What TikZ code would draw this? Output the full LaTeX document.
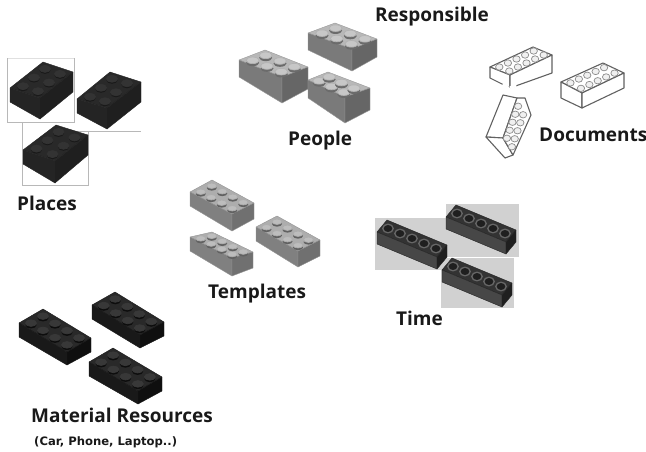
\documentclass[tikz,border=0pt]{standalone}
\usepackage{fontspec}
\setmainfont{Open Sans}
\newfontfamily\smallbold{DejaVu Sans}
\newcommand\brickset[9]{%
  \colorlet{ctop}{#1}\colorlet{cleft}{#2}\colorlet{cright}{#3}\colorlet{cedge}{#4}%
  \def\nA{#5}\def\nB{#6}\def\srx{#7}\def\sry{#8}\def\sch{#9}}
\newcommand\studcols[3]{\colorlet{cstop}{#1}\colorlet{csside}{#2}\colorlet{csedge}{#3}}
\def\studline{.7pt}
\newcommand\studs[6]{%
  \foreach \i in {1,...,\nA}{\foreach \j in {1,...,\nB}{%
    \pgfmathsetmacro\px{#1+(\i-.5)/\nA*(#3-#1)+(\j-.5)/\nB*(#5-#1)}%
    \pgfmathsetmacro\py{#2+(\i-.5)/\nA*(#4-#2)+(\j-.5)/\nB*(#6-#2)}%
    \fill[csside] (\px,\py+\sch) ellipse[x radius=\srx,y radius=\sry];
    \filldraw[fill=cstop,draw=csedge,line width=\studline] (\px,\py) ellipse[x radius=\srx,y radius=\sry];
  }}}
\def\parsehs#1,#2,#3;{\def\hL{#1}\def\hF{#2}\def\hR{#3}}
\newcommand\brick[9]{%
  \parsehs#9;%
  \filldraw[brickface,fill=ctop] (#1,#2)--(#3,#4)--(#5,#6)--(#7,#8)--cycle;
  \filldraw[brickface,fill=cleft] (#1,#2)--(#7,#8)--(#7,#8+\hF)--(#1,#2+\hL)--cycle;
  \filldraw[brickface,fill=cright] (#7,#8)--(#5,#6)--(#5,#6+\hR)--(#7,#8+\hF)--cycle;
  \studs{#1}{#2}{#3}{#4}{#7}{#8}}
\tikzset{
  brickface/.style={draw=cedge,line width=\brickline,line join=round},
  label text/.style={anchor=base west,inner sep=0pt,font=\bfseries\fontsize{19}{21}\selectfont,text=black!90},
  small label/.style={anchor=base west,inner sep=0pt,font=\smallbold\bfseries\fontsize{11.6}{13}\selectfont,text=black!90},
  frame line/.style={draw=black!28,line width=1pt},
  faint line/.style={draw=black!12,line width=.8pt},
  photo/.style={fill=black!18,draw=none},
  doc edge/.style={draw=black!62,line width=1.1pt,line join=round,fill=white}
}
\def\brickline{.4pt}
\begin{document}
\begin{tikzpicture}[x=1pt,y=-1pt]
\useasboundingbox (0,0) rectangle (646,451);
% Places
\draw[faint line] (7,58)--(74,58);
\draw[frame line] (7,58)--(7,122)--(74,122)--(74,58);
\draw[frame line] (74,131)--(141,131);
\draw[frame line] (22,122)--(22,185)--(88,185)--(88,131);
\brickset{black!84}{black!86}{black!88}{black!86}{3}{2}{5.5}{3.5}{1.5}
\studcols{black!80}{black!90}{black!80}
\brick{10}{88}{43}{62}{73}{72}{40}{98}{14,21,20}
\brick{77}{99}{110}{72}{141}{82}{107}{108}{14,21,20}
\brick{23}{150}{56}{125}{88}{135}{55}{161}{14,22,20}
% People
\brickset{black!28}{black!52}{black!60}{black!40}{2}{3}{6.5}{3.3}{2.5}
\studcols{black!22}{black!58}{black!30}
\brick{239}{60}{265}{50}{308}{67}{282}{77}{17,26,22}
\brick{308}{33}{335}{23}{377}{39}{352}{49}{17,22,18}
\brick{308}{80}{328}{72}{370}{88}{345}{97}{18,26,22}
% Templates
\brickset{black!32}{black!50}{black!56}{black!42}{2}{4}{5}{2.7}{2.2}
\studcols{black!26}{black!62}{black!32}
\brick{190}{192}{212}{180}{254}{203}{232}{214}{14,17,16}
\brick{256}{227}{277}{216}{320}{240}{298}{251}{14,16,16}
\brick{190}{237}{212}{232}{253}{252}{232}{258}{14,18,16}
% Material Resources
\brickset{black!84}{black!90}{black!94}{black!90}{2}{4}{5.5}{3.3}{2}
\studcols{black!78}{black!95}{black!78}
\brick{19}{323}{43}{309}{91}{338}{67}{352}{14,13,14}
\brick{92}{305}{115}{292}{164}{322}{140}{335}{14,13,14}
\brick{89}{362}{113}{348}{162}{377}{138}{391}{14,13,14}
% Documents
\def\brickline{1.1pt}
\brickset{white}{white}{white}{black!62}{5}{2}{3.7}{3.2}{0}
\studcols{black!6}{black!6}{black!45}
\brick{490}{67}{533}{47}{552}{55}{510}{75}{11,13,18}
\draw[white,line width=3pt] (510,88)--(516,85);
\draw[white,line width=3pt] (503,84)--(510,90);
\brick{561}{82}{603}{63}{624}{73}{582}{93}{16,15,15}
\filldraw[doc edge] (503,95)--(517,98)--(503,138)--(486,137)--cycle;
\filldraw[doc edge] (486,137)--(503,138)--(513,155)--(505,158)--cycle;
\filldraw[doc edge] (517,98)--(525,98)--(531,115)--(513,155)--(503,138)--cycle;
\studs{503}{138}{517}{98}{513}{155}
% Time
\fill[photo] (375,218) rectangle (447,270);
\fill[photo] (446,204) rectangle (519,257);
\fill[photo] (441,258) rectangle (514,308);
\def\brickline{.4pt}
\def\studline{1.3pt}
\brickset{black!80}{black!72}{black!88}{black!85}{1}{5}{5.2}{4.3}{0}
\studcols{black!88}{black!88}{black!60}
\brick{377}{232}{387}{220}{447}{245}{437}{257}{12,12,12}
\brick{446}{217}{456}{205}{516}{230}{506}{242}{12,12,12}
\brick{442}{270}{452}{258}{512}{283}{502}{295}{12,12,12}
% Labels
\node[label text] (responsible) at (375,21) {Responsible};
\node[label text] (people) at (288,145) {People};
\node[label text] (documents) at (539,141) {Documents};
\node[label text] (places) at (17,210) {Places};
\node[label text] (templates) at (208,298) {Templates};
\node[label text] (time) at (396,325) {Time};
\node[label text] (material) at (31,422) {Material Resources};
\node[small label] (examples) at (34,445) {(Car, Phone, Laptop..)};
\end{tikzpicture}
\end{document}
